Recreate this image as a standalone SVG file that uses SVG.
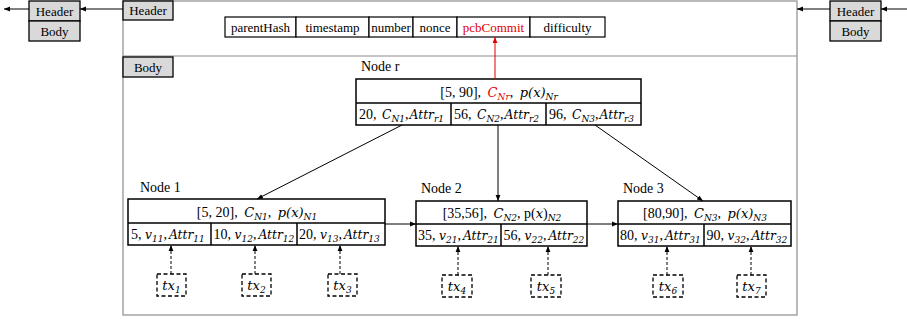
<svg xmlns="http://www.w3.org/2000/svg" width="907" height="321" viewBox="0 0 907 321">
<style>
text{font-family:"Liberation Serif","Times New Roman",serif;font-size:13px;fill:#000}
.t{font-size:14px}
.m{font-family:"DejaVu Serif",serif;font-style:italic;font-size:13px}
.k{font-family:"DejaVu Serif",serif;font-style:italic;font-size:12.3px}
.s{font-family:"DejaVu Serif",serif;font-style:italic;font-size:9px}
.red{fill:#e00000}
.tab{fill:#d9d9d9;stroke:#000;stroke-width:1.3}
.box{fill:#fff;stroke:#000;stroke-width:1.5}
.fld{fill:#fff;stroke:#000;stroke-width:1.2}
.frame{fill:none;stroke:#8c8c8c;stroke-width:1.2}
.c{stroke:#000;stroke-width:1;fill:none}
.d{stroke:#000;stroke-width:1;fill:none;stroke-dasharray:3,2}
.tx{fill:#fff;stroke:#000;stroke-width:1.3;stroke-dasharray:4,2.5}
</style>
<defs>
<marker id="a" viewBox="0 0 10 10" refX="10" refY="5" markerWidth="6" markerHeight="6" orient="auto" markerUnits="userSpaceOnUse"><path d="M0,1 L10,5 L0,9 z" fill="#000"/></marker>
<marker id="ar" viewBox="0 0 10 10" refX="10" refY="5" markerWidth="6" markerHeight="6" orient="auto" markerUnits="userSpaceOnUse"><path d="M0,1 L10,5 L0,9 z" fill="#e00000"/></marker>
</defs>

<g id="block">
<rect class="frame" x="123" y="1" width="674" height="314"/>
<line class="frame" x1="123" y1="56" x2="797" y2="56"/>
<rect class="tab" x="123" y="1" width="50" height="19"/>
<text x="148" y="15" text-anchor="middle">Header</text>
<rect class="tab" x="123" y="57" width="50" height="20"/>
<text x="148" y="72" text-anchor="middle">Body</text>
</g>

<g id="prev-block">
<rect class="tab" x="29" y="1" width="51" height="20"/>
<text x="54.5" y="16" text-anchor="middle">Header</text>
<rect class="tab" x="29" y="21" width="51" height="20"/>
<text x="54.5" y="36" text-anchor="middle">Body</text>
</g>

<g id="next-block">
<rect class="tab" x="830" y="1" width="51" height="20"/>
<text x="855.5" y="16" text-anchor="middle">Header</text>
<rect class="tab" x="830" y="21" width="51" height="20"/>
<text x="855.5" y="36" text-anchor="middle">Body</text>
</g>

<g id="header-fields">
<rect class="fld" x="225" y="17" width="71" height="20"/>
<text x="260.5" y="32" text-anchor="middle">parentHash</text>
<rect class="fld" x="296" y="17" width="73" height="20"/>
<text x="332.5" y="32" text-anchor="middle">timestamp</text>
<rect class="fld" x="369" y="17" width="44" height="20"/>
<text x="391" y="32" text-anchor="middle">number</text>
<rect class="fld" x="413" y="17" width="44" height="20"/>
<text x="435" y="32" text-anchor="middle">nonce</text>
<rect class="fld" x="457" y="17" width="73" height="20"/>
<text x="493.5" y="32" text-anchor="middle" class="red">pcbCommit</text>
<rect class="fld" x="530" y="17" width="75" height="20"/>
<text x="567.5" y="32" text-anchor="middle">difficulty</text>
</g>

<g id="node-r">
<text x="361" y="71" class="t">Node r</text>
<rect class="box" x="356" y="79" width="285" height="46"/>
<line class="box" x1="356" y1="103" x2="641" y2="103"/>
<line class="box" x1="451" y1="103" x2="451" y2="125"/>
<line class="box" x1="546" y1="103" x2="546" y2="125"/>
<text x="499" y="97" text-anchor="middle" class="t">[5, 90], <tspan class="m red" dx="3">C</tspan><tspan class="s red" dy="3">Nr</tspan><tspan dy="-3">, </tspan><tspan class="m" dx="3">p</tspan><tspan class="m">(x)</tspan><tspan class="s" dy="3">Nr</tspan></text>
<text x="359" y="119" class="t">20, <tspan class="k" dx="2">C</tspan><tspan class="s" dy="3">N1</tspan><tspan dy="-3">,</tspan><tspan class="k" dx="1">Attr</tspan><tspan class="s" dy="3">r1</tspan></text>
<text x="454" y="119" class="t">56, <tspan class="k" dx="2">C</tspan><tspan class="s" dy="3">N2</tspan><tspan dy="-3">,</tspan><tspan class="k" dx="1">Attr</tspan><tspan class="s" dy="3">r2</tspan></text>
<text x="549" y="119" class="t">96, <tspan class="k" dx="2">C</tspan><tspan class="s" dy="3">N3</tspan><tspan dy="-3">,</tspan><tspan class="k" dx="1">Attr</tspan><tspan class="s" dy="3">r3</tspan></text>
</g>

<g id="node-1">
<text x="140" y="192" class="t">Node 1</text>
<rect class="box" x="128" y="199" width="257" height="46"/>
<line class="box" x1="128" y1="223" x2="385" y2="223"/>
<line class="box" x1="211" y1="223" x2="211" y2="245"/>
<line class="box" x1="297" y1="223" x2="297" y2="245"/>
<text x="257" y="217" text-anchor="middle" class="t">[5, 20], <tspan class="m" dx="3">C</tspan><tspan class="s" dy="3">N1</tspan><tspan dy="-3">, </tspan><tspan class="m" dx="3">p</tspan><tspan class="m">(x)</tspan><tspan class="s" dy="3">N1</tspan></text>
<text x="131" y="239" class="t">5, <tspan class="k">v</tspan><tspan class="s" dy="3">11</tspan><tspan dy="-3">,</tspan><tspan class="k" dx="2">Attr</tspan><tspan class="s" dy="3">11</tspan></text>
<text x="213.5" y="239" class="t">10, <tspan class="k">v</tspan><tspan class="s" dy="3">12</tspan><tspan dy="-3">,</tspan><tspan class="k" dx="2">Attr</tspan><tspan class="s" dy="3">12</tspan></text>
<text x="299" y="239" class="t">20, <tspan class="k">v</tspan><tspan class="s" dy="3">13</tspan><tspan dy="-3">,</tspan><tspan class="k" dx="2">Attr</tspan><tspan class="s" dy="3">13</tspan></text>
</g>

<g id="node-2">
<text x="421" y="193" class="t">Node 2</text>
<rect class="box" x="416" y="201" width="171" height="45"/>
<line class="box" x1="416" y1="224" x2="587" y2="224"/>
<line class="box" x1="501" y1="224" x2="501" y2="246"/>
<text x="502" y="218" text-anchor="middle" class="t">[35,56], <tspan class="m" dx="3">C</tspan><tspan class="s" dy="3">N2</tspan><tspan dy="-3">,  p(</tspan><tspan class="m">x</tspan><tspan>)</tspan><tspan class="s" dy="3">N2</tspan></text>
<text x="418" y="240" class="t">35, <tspan class="k">v</tspan><tspan class="s" dy="3">21</tspan><tspan dy="-3">,</tspan><tspan class="k" dx="2">Attr</tspan><tspan class="s" dy="3">21</tspan></text>
<text x="503.5" y="240" class="t">56, <tspan class="k">v</tspan><tspan class="s" dy="3">22</tspan><tspan dy="-3">,</tspan><tspan class="k" dx="2">Attr</tspan><tspan class="s" dy="3">22</tspan></text>
</g>

<g id="node-3">
<text x="623" y="193" class="t">Node 3</text>
<rect class="box" x="618" y="201" width="173" height="45"/>
<line class="box" x1="618" y1="224" x2="791" y2="224"/>
<line class="box" x1="704" y1="224" x2="704" y2="246"/>
<text x="705" y="218" text-anchor="middle" class="t">[80,90], <tspan class="m" dx="3">C</tspan><tspan class="s" dy="3">N3</tspan><tspan dy="-3">, </tspan><tspan class="m" dx="3">p</tspan><tspan class="m">(x)</tspan><tspan class="s" dy="3">N3</tspan></text>
<text x="620" y="240" class="t">80, <tspan class="k">v</tspan><tspan class="s" dy="3">31</tspan><tspan dy="-3">,</tspan><tspan class="k" dx="2">Attr</tspan><tspan class="s" dy="3">31</tspan></text>
<text x="706.5" y="240" class="t">90, <tspan class="k">v</tspan><tspan class="s" dy="3">32</tspan><tspan dy="-3">,</tspan><tspan class="k" dx="2">Attr</tspan><tspan class="s" dy="3">32</tspan></text>
</g>

<g id="tx-1"><rect class="tx" x="157" y="274" width="29" height="22"/><text x="171.5" y="290" text-anchor="middle"><tspan class="m">tx</tspan><tspan class="s" dy="3">1</tspan></text></g>
<g id="tx-2"><rect class="tx" x="242" y="274" width="29" height="22"/><text x="256.5" y="290" text-anchor="middle"><tspan class="m">tx</tspan><tspan class="s" dy="3">2</tspan></text></g>
<g id="tx-3"><rect class="tx" x="328" y="274" width="29" height="22"/><text x="342.5" y="290" text-anchor="middle"><tspan class="m">tx</tspan><tspan class="s" dy="3">3</tspan></text></g>
<g id="tx-4"><rect class="tx" x="442" y="275" width="30" height="22"/><text x="457" y="291" text-anchor="middle"><tspan class="m">tx</tspan><tspan class="s" dy="3">4</tspan></text></g>
<g id="tx-5"><rect class="tx" x="531" y="275" width="30" height="22"/><text x="546" y="291" text-anchor="middle"><tspan class="m">tx</tspan><tspan class="s" dy="3">5</tspan></text></g>
<g id="tx-6"><rect class="tx" x="653" y="275" width="30" height="22"/><text x="668" y="291" text-anchor="middle"><tspan class="m">tx</tspan><tspan class="s" dy="3">6</tspan></text></g>
<g id="tx-7"><rect class="tx" x="737" y="275" width="29" height="22"/><text x="751.5" y="291" text-anchor="middle"><tspan class="m">tx</tspan><tspan class="s" dy="3">7</tspan></text></g>

<g id="connectors">
<line class="c" x1="123" y1="9" x2="80" y2="9" marker-end="url(#a)"/>
<line class="c" x1="29" y1="9" x2="4" y2="9" marker-end="url(#a)"/>
<line class="c" x1="830" y1="9" x2="797" y2="9" marker-end="url(#a)"/>
<line class="c" x1="907" y1="9" x2="881" y2="9" marker-end="url(#a)"/>
<line x1="495" y1="79" x2="495" y2="37" stroke="#e00000" stroke-width="1" marker-end="url(#ar)"/>
<line class="c" x1="402" y1="125" x2="257" y2="199" marker-end="url(#a)"/>
<line class="c" x1="498" y1="125" x2="498" y2="201" marker-end="url(#a)"/>
<line class="c" x1="595" y1="125" x2="703" y2="201" marker-end="url(#a)"/>
<line class="c" x1="385" y1="224" x2="416" y2="224" marker-end="url(#a)"/>
<line class="c" x1="587" y1="224" x2="618" y2="224" marker-end="url(#a)"/>
<line class="d" x1="171" y1="274" x2="171" y2="245" marker-end="url(#a)"/>
<line class="d" x1="255" y1="274" x2="255" y2="245" marker-end="url(#a)"/>
<line class="d" x1="340" y1="274" x2="340" y2="245" marker-end="url(#a)"/>
<line class="d" x1="458" y1="275" x2="458" y2="246" marker-end="url(#a)"/>
<line class="d" x1="548" y1="275" x2="548" y2="246" marker-end="url(#a)"/>
<line class="d" x1="667" y1="275" x2="667" y2="246" marker-end="url(#a)"/>
<line class="d" x1="751" y1="275" x2="751" y2="246" marker-end="url(#a)"/>
</g>
</svg>
